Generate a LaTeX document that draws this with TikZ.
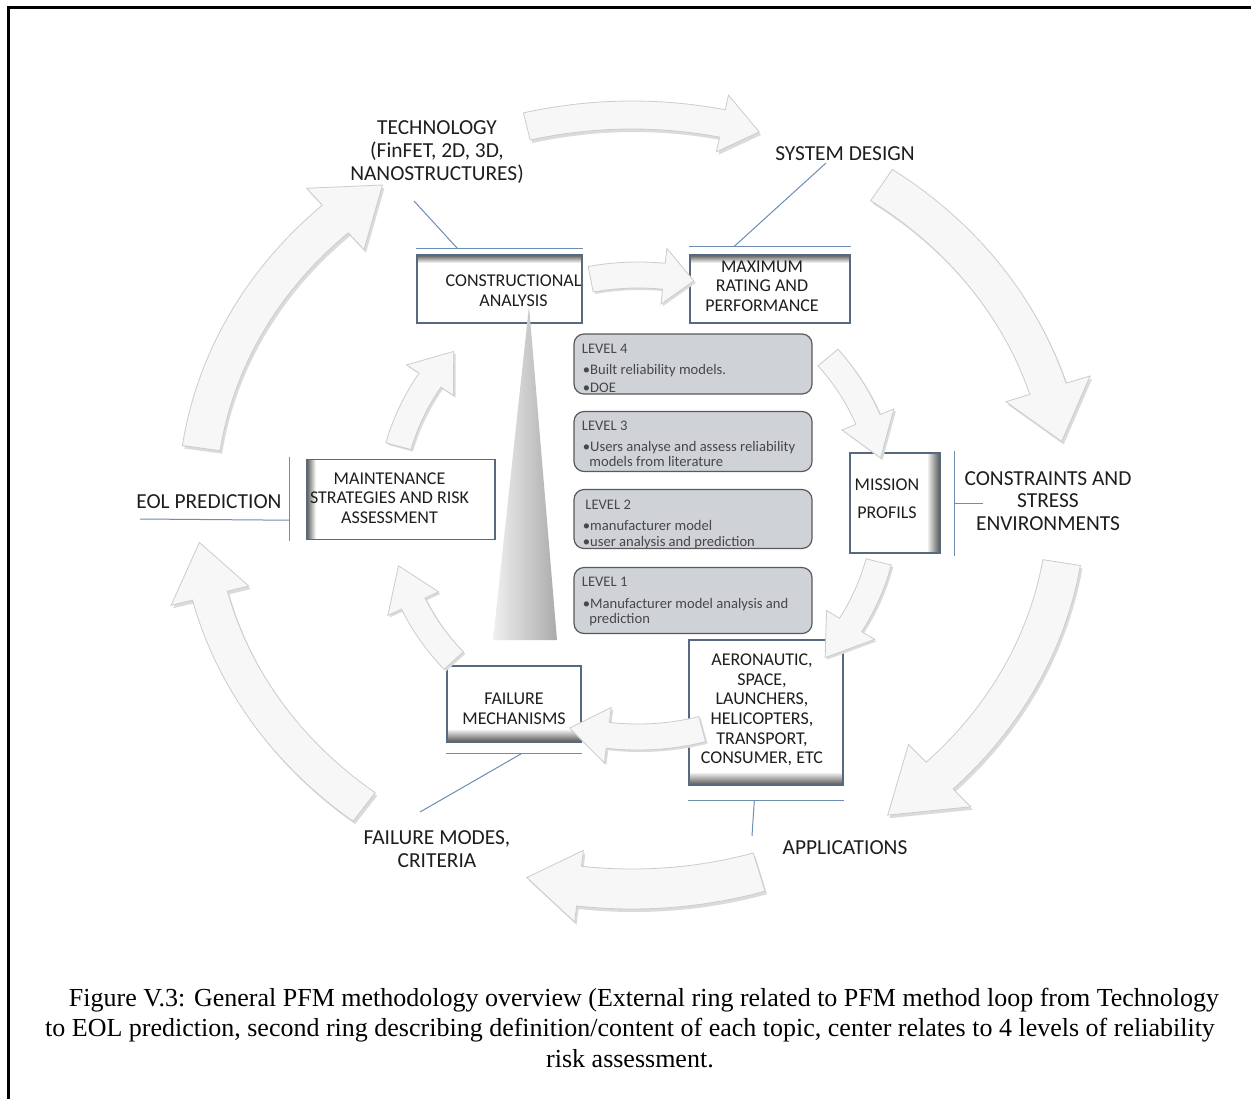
\documentclass[tikz,border=0pt]{standalone}
\usepackage{fontspec}
\setmainfont{Carlito}
\newfontfamily\capfont{Liberation Serif}
\usetikzlibrary{calc}
\definecolor{boxline}{HTML}{56697F}
\definecolor{leader}{HTML}{6F8CB2}
\definecolor{lvlfill}{HTML}{CFD2D7}
\definecolor{lvlline}{HTML}{5A5A5A}
\definecolor{txt}{HTML}{1E1E1E}
\newcommand{\ringarrow}[8]{%
\path[#1] plot[domain=0:1, samples=30] ({(#2+#4)*cos((#6)+((#7)-(#6))*\x)},{(#3+#4)*sin((#6)+((#7)-(#6))*\x)})
 -- ({(#2+#5)*cos(#7)},{(#3+#5)*sin(#7)})
 -- ({#2*cos(#8)},{#3*sin(#8)})
 -- ({(#2-#5)*cos(#7)},{(#3-#5)*sin(#7)})
 -- plot[domain=0:1, samples=30] ({(#2-#4)*cos((#7)+((#6)-(#7))*\x)},{(#3-#4)*sin((#7)+((#6)-(#7))*\x)})
 -- cycle;}
\tikzset{
 outerlabel/.style={font=\fontsize{10.7}{11.3}\selectfont, text=txt, align=center, inner sep=0},
 boxtext/.style={font=\fontsize{9}{9.8}\selectfont, text=txt, align=center, inner sep=0},
 pfmbox/.style={draw=boxline, line width=0.7pt, fill=white, inner sep=0},
 leaderline/.style={draw=leader, line width=0.5pt},
 lvlbox/.style={draw=lvlline, fill=lvlfill, rounded corners=5pt, line width=0.6pt, inner sep=0, minimum width=119pt},
 lvltext/.style={font=\fontsize{7.3}{8}\selectfont, text=black!72, inner sep=0, anchor=base west},
 ringfill/.style={fill=white!97!black, draw=black!20, line width=0.4pt},
 ringshadow/.style={fill=black!14, draw=none},
 shadetop/.style={path picture={\foreach \i [evaluate=\i as \c using int(64-8*\i)] in {0,...,7}{\fill[black!\c] ([yshift=-\i*0.5pt]path picture bounding box.north west) rectangle ([yshift=-\i*0.5pt-0.55pt]path picture bounding box.north east);}}},
 shadebottom/.style={path picture={\foreach \i [evaluate=\i as \c using int(62-5*\i)] in {0,...,11}{\fill[black!\c] ([yshift=\i*0.5pt]path picture bounding box.south west) rectangle ([yshift=\i*0.5pt+0.55pt]path picture bounding box.south east);}}},
 shadeleft/.style={path picture={\foreach \i [evaluate=\i as \c using int(62-7*\i)] in {0,...,8}{\fill[black!\c] ([xshift=\i*0.5pt]path picture bounding box.north west) rectangle ([xshift=\i*0.5pt+0.55pt]path picture bounding box.south west);}}},
 shaderight/.style={path picture={\foreach \i [evaluate=\i as \c using int(62-5*\i)] in {0,...,11}{\fill[black!\c] ([xshift=-\i*0.5pt]path picture bounding box.north east) rectangle ([xshift=-\i*0.5pt-0.55pt]path picture bounding box.south east);}}},
}
\begin{document}
\begin{tikzpicture}[x=0.5pt, y=-0.5pt]
\useasboundingbox (0,0) rectangle (1251,1098);
\fill[white] (0,0) rectangle (1251,1098);
\draw[line width=1.2pt] (8.5,1110) -- (8.5,7.5) -- (1260,7.5);

% outer ring
\begin{scope}[shift={(632,502)}, yscale=-1]
 \foreach \a/\b/\c/\w/\h in {104/78/73/14/29, 55/17/9/19/44, -9/-45/-54/19/44, -73/-97/-104/20/36, 232/194/186/18/40, 172/133/125/19/42}{
  \ringarrow{ringshadow, shift={(2,-3)}}{435}{387}{\w}{\h}{\a}{\b}{\c}
  \ringarrow{ringfill}{435}{387}{\w}{\h}{\a}{\b}{\c}
 }
\end{scope}

% boxes of the second ring
\node[pfmbox, shadetop, minimum width=82.5pt, minimum height=34pt] (ca) at (499.5,289) {};
\node[pfmbox, shadetop, minimum width=80pt, minimum height=34pt] (mr) at (770,289) {};
\node[pfmbox, shaderight, minimum width=45pt, minimum height=50pt] (mp) at (895,503) {};
\node[pfmbox, shadebottom, minimum width=77pt, minimum height=72.5pt] (ap) at (766,712.5) {};
\node[pfmbox, shadebottom, minimum width=67pt, minimum height=38pt] (fm) at (514,704) {};
\node[pfmbox, shadeleft, minimum width=94pt, minimum height=40pt] (ms) at (401,499.5) {};

% title lines
\draw[leaderline] ([yshift=3pt]ca.north west) -- ([yshift=3pt]ca.north east);
\draw[leaderline] ([yshift=4pt]mr.north west) -- ([yshift=4pt]mr.north east);
\draw[leaderline] ([xshift=7pt,yshift=0.5pt]mp.north east) -- ([xshift=7pt,yshift=-1pt]mp.south east);
\draw[leaderline] ([yshift=-7.5pt]ap.south west) -- ([yshift=-7.5pt]ap.south east);
\draw[leaderline] ([yshift=-5.5pt]fm.south west) -- ([yshift=-5.5pt]fm.south east);
\draw[leaderline] ([xshift=-8.5pt,yshift=1pt]ms.north west) -- ([xshift=-8.5pt,yshift=-0.5pt]ms.south west);

% triangle
\shade[left color=black!6, right color=black!33] (529,306) -- (557,640) -- (493,640) -- cycle;

% inner ring arrows
\begin{scope}[shift={(638,506)}, yscale=-1]
 \foreach \a/\b/\c in {101/84/77, 40/22/12, -14/-31/-41, -75/-97/-106, 222/205/195, 165/147/138}{
  \ringarrow{ringshadow, shift={(2,-2)}}{248}{231}{13}{28}{\a}{\b}{\c}
  \ringarrow{ringfill}{248}{231}{13}{28}{\a}{\b}{\c}
 }
\end{scope}

% box texts
\node[boxtext] (catext) at (513.5,291) {CONSTRUCTIONAL\\ANALYSIS};
\node[boxtext] (mrtext) at (762,286) {MAXIMUM\\RATING AND\\PERFORMANCE};
\node[boxtext, font=\fontsize{9}{14}\selectfont] (mptext) at (887,499) {MISSION\\PROFILS};
\node[boxtext] (aptext) at (762,710) {AERONAUTIC,\\SPACE,\\LAUNCHERS,\\HELICOPTERS,\\TRANSPORT,\\CONSUMER, ETC};
\node[boxtext] (fmtext) at (514,709) {FAILURE\\MECHANISMS};
\node[boxtext] (mstext) at (389.5,498) {MAINTENANCE\\STRATEGIES AND RISK\\ASSESSMENT};

% outer labels
\node[outerlabel] (tech) at (437,152) {TECHNOLOGY\\(FinFET, 2D, 3D,\\NANOSTRUCTURES)};
\node[outerlabel] (sysdes) at (845,154) {SYSTEM DESIGN};
\node[outerlabel] (constr) at (1048,501) {CONSTRAINTS AND\\STRESS\\ENVIRONMENTS};
\node[outerlabel] (appl) at (845,848) {APPLICATIONS};
\node[outerlabel] (fmodes) at (437,849) {FAILURE MODES,\\CRITERIA};
\node[outerlabel] (eol) at (209,502) {EOL PREDICTION};

% leader connectors
\coordinate (techend) at (414,201);
\coordinate (sysend) at (826,163);
\coordinate (constrend) at (983,503);
\coordinate (applend) at (752,836);
\coordinate (fmodesend) at (420,812);
\coordinate (eolend) at (140,519);
\draw[leaderline] (techend) -- ($(ca.north west)+(41,-6)$);
\draw[leaderline] (sysend) -- ($(mr.north west)+(45,-8)$);
\draw[leaderline] (constrend) -- ($(mp.east)+(14,0)$);
\draw[leaderline] (applend) -- ($(ap.south west)+(66,15)$);
\draw[leaderline] (fmodesend) -- ($(fm.south west)+(75,11)$);
\draw[leaderline] (eolend) -- ($(ms.south west)+(-17,-20)$);

% levels
\node[lvlbox, minimum height=30pt] (l4) at (693,364) {};
\node[lvlbox, minimum height=30pt] (l3) at (693,441.5) {};
\node[lvlbox, minimum height=29.5pt] (l2) at (693,519) {};
\node[lvlbox, minimum height=33pt] (l1) at (693,600.5) {};
\node[lvltext] (l4a) at (581.5,353) {LEVEL 4};
\node[lvltext] (l4b) at (582.5,374) {•Built reliability models.};
\node[lvltext] (l4c) at (582.5,392) {•DOE};
\node[lvltext] (l3a) at (581.5,430.5) {LEVEL 3};
\node[lvltext] (l3b) at (582.5,451.5) {•Users analyse and assess reliability};
\node[lvltext] (l3c) at (589,466.5) {models from literature};
\node[lvltext] (l2a) at (585,509) {LEVEL 2};
\node[lvltext] (l2b) at (582.5,530) {•manufacturer model};
\node[lvltext] (l2c) at (582.5,546.5) {•user analysis and prediction};
\node[lvltext] (l1a) at (581.5,586.5) {LEVEL 1};
\node[lvltext] (l1b) at (582.5,608) {•Manufacturer model analysis and};
\node[lvltext] (l1c) at (589,623) {prediction};

% caption
\node[font=\capfont\fontsize{13}{15.25}\selectfont, align=center, inner sep=0] (cap) at (630,1028) {\hspace*{14pt}Figure V.3: General PFM methodology overview (External ring related to PFM method loop from Technology\\to EOL prediction, second ring describing definition/content of each topic, center relates to 4 levels of reliability\\risk assessment.};
\end{tikzpicture}
\end{document}
